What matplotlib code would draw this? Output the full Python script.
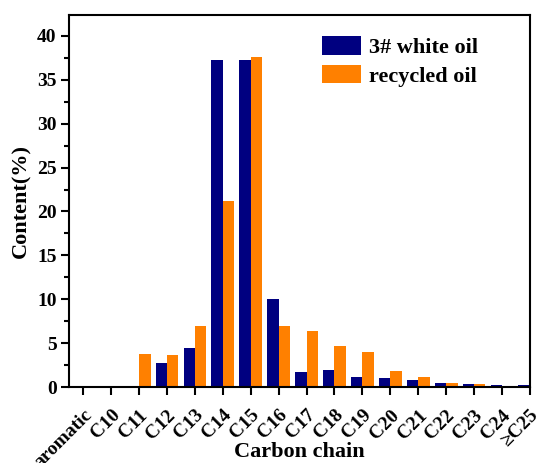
import numpy as np
import matplotlib
matplotlib.use("Agg")
import matplotlib.pyplot as plt
import matplotlib.transforms as mtransforms
from matplotlib.ticker import MultipleLocator

plt.rcParams['font.family'] = ['Liberation Serif', 'DejaVu Serif']
plt.rcParams['font.weight'] = 'bold'

categories = ['aromatic', 'C10', 'C11', 'C12', 'C13', 'C14', 'C15', 'C16', 'C17',
              'C18', 'C19', 'C20', 'C21', 'C22', 'C23', 'C24', '≥C25']
white_oil = [0, 0, 0, 2.7, 4.5, 37.3, 37.3, 10.0, 1.7, 1.9, 1.1, 1.0, 0.8, 0.5, 0.35, 0.25, 0.2]
recycled_oil = [0, 0, 3.8, 3.7, 7.0, 21.2, 37.6, 7.0, 6.4, 4.7, 4.0, 1.8, 1.1, 0.5, 0.3, 0.15, 0]

x = np.arange(len(categories))
w = 0.41

fig = plt.figure(figsize=(5.44, 4.63), dpi=100)
ax = fig.add_axes([0.127, 0.164, 0.847, 0.804])

ax.bar(x - w / 2, white_oil, w, color='#000080', label='3# white oil')
ax.bar(x + w / 2, recycled_oil, w, color='#FF8000', label='recycled oil')

ax.set_xlim(-0.51, 16)
ax.set_ylim(0, 42.4)
ax.set_xticks(x)
ax.set_xticklabels(categories, rotation=45, ha='right', va='top',
                   rotation_mode='anchor', fontsize=14)
# nudge the slanted labels a little to the right of their ticks
shift = mtransforms.ScaledTranslation(0.05, 0, fig.dpi_scale_trans)
for lbl in ax.get_xticklabels():
    lbl.set_transform(lbl.get_transform() + shift)

ax.yaxis.set_major_locator(MultipleLocator(5))
ax.yaxis.set_minor_locator(MultipleLocator(2.5))
ax.tick_params(axis='y', labelsize=14, width=1.5, length=6, pad=3)
ax.tick_params(axis='y', which='minor', width=1.5, length=3.5)
ax.tick_params(axis='x', width=1.5, length=6, pad=8)
for s in ax.spines.values():
    s.set_linewidth(1.5)

ax.set_xlabel('Carbon chain', fontsize=16, fontweight='bold')
ax.xaxis.set_label_coords(0.50, -0.148)
ax.set_ylabel('Content(%)', fontsize=16, fontweight='bold', labelpad=4)

ax.legend(loc='upper left', bbox_to_anchor=(0.549, 0.942), frameon=False, fontsize=16,
          borderaxespad=0, borderpad=0, handlelength=1.75, handleheight=0.9,
          handletextpad=0.35, labelspacing=0.3)

fig.savefig('out.png', dpi=100)
